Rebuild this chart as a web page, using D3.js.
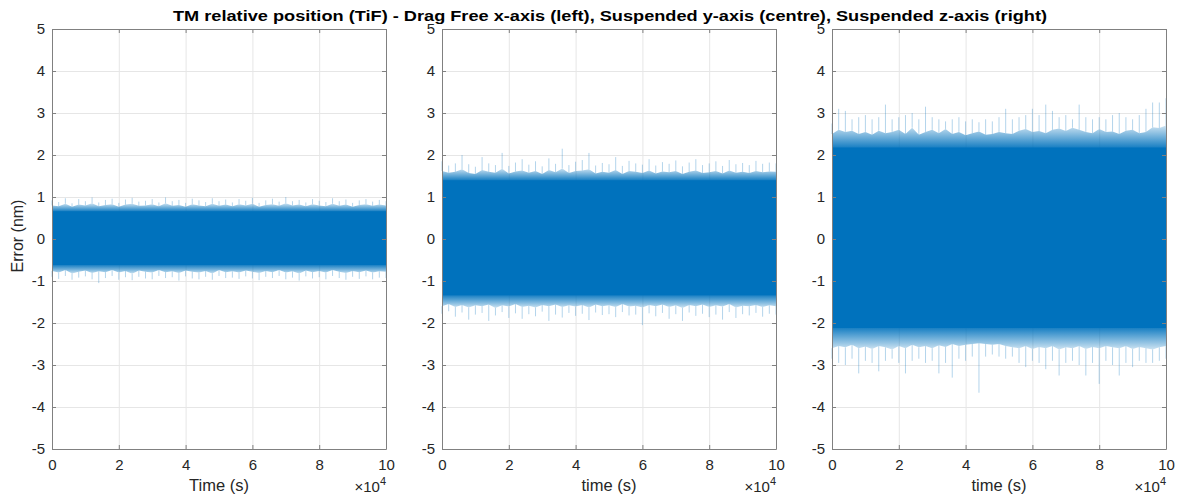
<!DOCTYPE html>
<html>
<head>
<meta charset="utf-8">
<script src="https://cdn.jsdelivr.net/npm/d3@7"></script>
<style>
  body { margin: 0; background: #fff; }
  svg text { font-family: "Liberation Sans", Arial, sans-serif; }
</style>
</head>
<body>
<div id="chart"></div>
<script>
var sampleTimes = [0,2000,4000,6000,8000,10000,12000,14000,16000,18000,20000,22000,24000,26000,28000,30000,32000,34000,36000,38000,40000,42000,44000,46000,48000,50000,52000,54000,56000,58000,60000,62000,64000,66000,68000,70000,72000,74000,76000,78000,80000,82000,84000,86000,88000,90000,92000,94000,96000,98000,100000]

var xTicks = [0, 20000, 40000, 60000, 80000, 100000]
var yTicks = [-5, -4, -3, -2, -1, 0, 1, 2, 3, 4, 5]
var xLabels = ["Time (s)", "time (s)", "time (s)"]

// dense band level [top, bottom] per panel (nm)
var coreX = [0.66, -0.62]
var coreY = [1.4, -1.34]
var coreZ = [2.18, -2.12]

// x-axis (drag free)
var fuzzHiX = [0.8,0.78,0.84,0.77,0.82,0.8,0.85,0.78,0.81,0.83,0.77,0.82,0.84,0.79,0.8,0.83,0.78,0.85,0.79,0.81,0.77,0.83,0.8,0.78,0.84,0.79,0.82,0.78,0.83,0.8,0.84,0.77,0.81,0.83,0.79,0.85,0.8,0.82,0.78,0.83,0.8,0.78,0.84,0.79,0.82,0.77,0.81,0.83,0.79,0.82,0.8]
var peakHiX = [0.92,0.88,0.97,0.85,0.95,0.9,0.99,0.87,0.93,0.96,0.86,0.94,0.98,0.89,0.91,0.95,0.87,0.99,0.9,0.93,0.86,0.96,0.92,0.88,0.97,0.9,0.94,0.87,0.95,0.91,0.98,0.86,0.92,0.96,0.89,1.0,0.9,0.93,0.87,0.95,0.91,0.88,0.97,0.9,0.94,0.86,0.92,0.95,0.89,0.93,0.9]
var fuzzLoX = [-0.76,-0.8,-0.74,-0.82,-0.78,-0.75,-0.81,-0.77,-0.79,-0.74,-0.8,-0.76,-0.83,-0.75,-0.78,-0.8,-0.74,-0.79,-0.77,-0.81,-0.75,-0.78,-0.8,-0.76,-0.82,-0.74,-0.79,-0.77,-0.8,-0.75,-0.78,-0.81,-0.76,-0.79,-0.74,-0.8,-0.77,-0.82,-0.75,-0.79,-0.76,-0.8,-0.74,-0.78,-0.81,-0.76,-0.79,-0.75,-0.8,-0.77,-0.78]
var peakLoX = [-0.9,-0.95,-0.88,-0.97,-0.92,-0.89,-0.96,-1.05,-0.93,-0.88,-0.97,-0.91,-0.98,-0.9,-0.94,-0.96,-0.88,-0.93,-0.91,-0.99,-0.89,-0.94,-0.96,-0.9,-0.97,-0.88,-0.93,-0.92,-0.95,-0.89,-0.94,-0.98,-0.9,-0.93,-0.88,-0.96,-0.92,-0.99,-0.89,-0.94,-0.91,-0.96,-0.88,-0.93,-0.97,-0.9,-0.95,-0.89,-0.96,-0.92,-0.93]

// y-axis (suspended)
var fuzzHiY = [1.62,1.58,1.6,1.66,1.57,1.55,1.64,1.6,1.58,1.67,1.56,1.61,1.63,1.58,1.62,1.55,1.64,1.59,1.68,1.57,1.62,1.63,1.66,1.56,1.6,1.58,1.64,1.55,1.62,1.6,1.57,1.63,1.56,1.61,1.59,1.62,1.55,1.6,1.63,1.57,1.59,1.62,1.56,1.63,1.58,1.6,1.57,1.62,1.59,1.61,1.6]
var peakHiY = [1.85,1.75,1.8,2.0,1.78,1.72,1.95,1.8,1.76,2.05,1.74,1.82,1.9,1.77,1.85,1.73,1.92,1.79,2.15,1.76,1.84,1.88,2.05,1.75,1.81,1.78,1.95,1.74,1.86,1.8,1.77,1.9,1.75,1.83,1.79,1.87,1.73,1.82,1.9,1.76,1.8,1.85,1.74,1.88,1.78,1.81,1.76,1.86,1.79,1.82,1.8]
var fuzzLoY = [-1.6,-1.55,-1.62,-1.57,-1.63,-1.58,-1.6,-1.56,-1.64,-1.58,-1.61,-1.55,-1.62,-1.59,-1.63,-1.57,-1.6,-1.56,-1.62,-1.58,-1.61,-1.57,-1.63,-1.56,-1.6,-1.58,-1.62,-1.55,-1.61,-1.59,-1.63,-1.57,-1.6,-1.56,-1.62,-1.58,-1.64,-1.57,-1.6,-1.56,-1.62,-1.58,-1.61,-1.55,-1.63,-1.59,-1.6,-1.57,-1.62,-1.58,-1.6]
var peakLoY = [-1.78,-1.72,-1.85,-1.75,-1.92,-1.8,-1.76,-1.95,-1.82,-1.74,-1.88,-1.77,-1.9,-1.79,-1.84,-1.73,-1.95,-1.8,-1.87,-1.76,-1.83,-1.78,-1.93,-1.75,-1.81,-1.79,-1.86,-1.74,-1.82,-1.8,-2.05,-1.77,-1.84,-1.76,-1.9,-1.79,-1.95,-1.75,-1.83,-1.78,-1.86,-1.8,-1.92,-1.74,-1.88,-1.79,-1.82,-1.76,-1.85,-1.78,-1.8]

// z-axis (suspended)
var fuzzHiZ = [2.5,2.6,2.55,2.58,2.5,2.55,2.48,2.58,2.52,2.55,2.6,2.5,2.65,2.48,2.55,2.6,2.52,2.62,2.5,2.55,2.47,2.52,2.56,2.48,2.5,2.55,2.52,2.5,2.58,2.62,2.55,2.57,2.52,2.6,2.63,2.57,2.65,2.6,2.55,2.52,2.62,2.55,2.56,2.5,2.58,2.6,2.52,2.55,2.66,2.64,2.7]
var peakHiZ = [2.75,3.1,3.05,2.85,2.9,2.95,2.85,2.9,3.2,2.85,2.9,2.95,3.0,2.85,3.15,2.9,2.85,2.8,2.85,2.9,2.8,2.85,2.78,2.85,2.8,2.9,3.1,2.85,2.9,2.95,3.1,2.95,3.2,3.05,2.9,2.95,2.85,3.2,2.9,2.85,2.9,2.85,2.95,3.0,2.9,2.85,2.95,3.1,3.25,3.25,3.35]
var fuzzLoZ = [-2.6,-2.55,-2.58,-2.52,-2.6,-2.56,-2.62,-2.55,-2.58,-2.63,-2.55,-2.6,-2.52,-2.58,-2.55,-2.6,-2.53,-2.57,-2.5,-2.55,-2.52,-2.5,-2.48,-2.5,-2.52,-2.5,-2.55,-2.58,-2.6,-2.55,-2.62,-2.57,-2.6,-2.55,-2.63,-2.58,-2.6,-2.55,-2.62,-2.57,-2.6,-2.55,-2.58,-2.6,-2.55,-2.62,-2.57,-2.6,-2.63,-2.58,-2.55]
var peakLoZ = [-2.85,-2.95,-3.0,-2.85,-3.2,-2.9,-2.95,-3.15,-2.9,-2.85,-2.95,-3.2,-2.9,-2.85,-2.95,-2.9,-3.2,-2.95,-3.3,-2.85,-2.9,-2.8,-3.66,-2.8,-2.75,-2.8,-2.85,-2.8,-2.95,-3.05,-2.9,-2.95,-3.1,-2.9,-3.25,-2.95,-2.9,-3.0,-3.25,-2.95,-3.45,-2.9,-3.0,-3.25,-2.95,-3.05,-2.9,-2.95,-2.95,-2.9,-2.85]

var W = 1182, H = 498
var blue = "#0072BD"
var plotTop = 29, plotBottom = 449, pw = 334
var lefts = [52, 442, 832]

var panels = [
  { core: coreX, fHi: fuzzHiX, pHi: peakHiX, fLo: fuzzLoX, pLo: peakLoX },
  { core: coreY, fHi: fuzzHiY, pHi: peakHiY, fLo: fuzzLoY, pLo: peakLoY },
  { core: coreZ, fHi: fuzzHiZ, pHi: peakHiZ, fLo: fuzzLoZ, pLo: peakLoZ }
]

var svg = d3.select("#chart").append("svg")
    .attr("width", W)
    .attr("height", H)
var defs = svg.append("defs")

var y = d3.scaleLinear().domain([-5, 5]).range([plotBottom, plotTop])

// fade from the dense band towards the fringe edge
function fade(id, from, to) {
  var gr = defs.append("linearGradient").attr("id", id)
    .attr("gradientUnits", "userSpaceOnUse")
    .attr("x1", 0).attr("x2", 0).attr("y1", from).attr("y2", to)
  gr.append("stop").attr("offset", 0).attr("stop-color", blue).attr("stop-opacity", 0.9)
  gr.append("stop").attr("offset", 1).attr("stop-color", blue).attr("stop-opacity", 0.2)
}

panels.forEach(function (p, k) {
  var left = lefts[k]
  var x = d3.scaleLinear().domain([0, 100000]).range([left, left + pw])
  var g = svg.append("g")

  // grid
  g.append("g")
    .attr("transform", "translate(0," + plotBottom + ")")
    .call(d3.axisBottom(x).tickValues(xTicks).tickSize(-(plotBottom - plotTop)).tickFormat(""))
    .call(s => s.select(".domain").remove())
    .selectAll("line").attr("stroke", "#e6e6e6")
  g.append("g")
    .attr("transform", "translate(" + left + ",0)")
    .call(d3.axisLeft(y).tickValues(yTicks).tickSize(-pw).tickFormat(""))
    .call(s => s.select(".domain").remove())
    .selectAll("line").attr("stroke", "#e6e6e6")

  var rows = sampleTimes.map(function (t, i) {
    return { t: t, fHi: p.fHi[i], pHi: p.pHi[i], fLo: p.fLo[i], pLo: p.pLo[i] }
  })

  // spikes
  g.selectAll(".spikeHi").data(rows).enter().append("line")
    .attr("x1", d => x(d.t)).attr("x2", d => x(d.t))
    .attr("y1", d => y(d.fHi)).attr("y2", d => y(d.pHi))
    .attr("stroke", blue).attr("stroke-opacity", 0.3).attr("stroke-width", 1)
  g.selectAll(".spikeLo").data(rows).enter().append("line")
    .attr("x1", d => x(d.t)).attr("x2", d => x(d.t))
    .attr("y1", d => y(d.fLo)).attr("y2", d => y(d.pLo))
    .attr("stroke", blue).attr("stroke-opacity", 0.3).attr("stroke-width", 1)

  // fuzzy fringe (starts at 0 so it tucks under the dense band)
  fade("fadeHi" + k, y(p.core[0]), y(d3.max(p.fHi)))
  fade("fadeLo" + k, y(p.core[1]), y(d3.min(p.fLo)))
  g.append("path").datum(rows)
    .attr("fill", "url(#fadeHi" + k + ")")
    .attr("d", d3.area().x(d => x(d.t)).y0(y(0)).y1(d => y(d.fHi)))
  g.append("path").datum(rows)
    .attr("fill", "url(#fadeLo" + k + ")")
    .attr("d", d3.area().x(d => x(d.t)).y0(y(0)).y1(d => y(d.fLo)))

  // dense band
  g.append("path").datum(rows)
    .attr("fill", blue)
    .attr("d", d3.area().x(d => x(d.t)).y0(y(p.core[1])).y1(y(p.core[0])))

  // axes (ticks inward)
  var axCol = "#808080"
  var bx = g.append("g")
    .attr("transform", "translate(0," + plotBottom + ")")
    .call(d3.axisBottom(x).tickValues(xTicks).tickSizeInner(-4).tickSizeOuter(0).tickPadding(10).tickFormat(d => d / 10000))
  var tx = g.append("g")
    .attr("transform", "translate(0," + plotTop + ")")
    .call(d3.axisTop(x).tickValues(xTicks).tickSizeInner(-4).tickSizeOuter(0).tickFormat(""))
  var ly = g.append("g")
    .attr("transform", "translate(" + left + ",0)")
    .call(d3.axisLeft(y).tickValues(yTicks).tickSizeInner(-4).tickSizeOuter(0).tickPadding(7).tickFormat(d3.format("d")))
  var ry = g.append("g")
    .attr("transform", "translate(" + (left + pw) + ",0)")
    .call(d3.axisRight(y).tickValues(yTicks).tickSizeInner(-4).tickSizeOuter(0).tickFormat(""))
  ;[bx, tx, ly, ry].forEach(function (a) {
    a.select(".domain").attr("stroke", axCol)
    a.selectAll(".tick line").attr("stroke", axCol)
    a.selectAll("text").attr("fill", "#262626").style("font-size", "15px")
  })
  ly.selectAll("text").filter(d => d < 0).text(d => "-" + Math.abs(d))

  // x label
  g.append("text")
    .attr("x", left + pw / 2).attr("y", 491)
    .attr("text-anchor", "middle")
    .attr("fill", "#262626").style("font-size", "16.5px")
    .text(xLabels[k])

  // exponent
  var ex = g.append("text")
    .attr("x", left + pw).attr("y", 492)
    .attr("text-anchor", "end")
    .attr("fill", "#262626").style("font-size", "15px")
  ex.append("tspan").text("\u00d710")
  ex.append("tspan").attr("dy", -7).style("font-size", "11px").text("4")
})

// y label
svg.append("text")
  .attr("transform", "translate(23,236) rotate(-90)")
  .attr("text-anchor", "middle")
  .attr("fill", "#262626").style("font-size", "16px")
  .text("Error (nm)")

// title
svg.append("text")
  .attr("x", 610).attr("y", 21)
  .attr("text-anchor", "middle")
  .attr("textLength", 874).attr("lengthAdjust", "spacingAndGlyphs")
  .attr("fill", "#000").style("font-size", "15px").style("font-weight", "bold")
  .text("TM relative position (TiF) - Drag Free x-axis (left), Suspended y-axis (centre), Suspended z-axis (right)")
</script>
</body>
</html>
